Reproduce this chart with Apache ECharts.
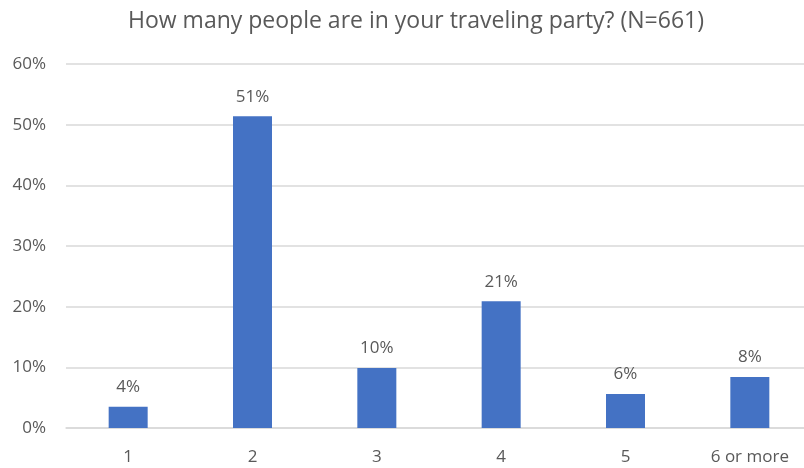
<!DOCTYPE html>
<html>
<head>
<meta charset="utf-8">
<script src="https://cdn.jsdelivr.net/npm/echarts@6/dist/echarts.min.js"></script>
<style>
  html, body { margin: 0; padding: 0; background: #fff; }
  #chart { width: 804px; height: 468px; }
</style>
</head>
<body>
<div id="chart"></div>
<script>
// Party size categories and share of respondents (percent)
const categories = ['1', '2', '3', '4', '5', '6 or more'];
const shares = [3.5, 51.4, 9.9, 20.9, 5.6, 8.4];
const yTicks = { min: 0, max: 60, interval: 10 };
const titleText = 'How many people are in your traveling party? (N=661)';

const FONT = '"Open Sans", "Noto Sans", sans-serif';
const TEXT = '#595959';

const chart = echarts.init(document.getElementById('chart'), null, { renderer: 'canvas' });
chart.setOption({
  animation: false,
  title: {
    text: titleText,
    left: 411,
    textAlign: 'center',
    top: 5,
    textStyle: { fontFamily: FONT, fontSize: 23, fontWeight: 'normal', color: TEXT }
  },
  // plot area runs slightly past the right edge of the canvas
  grid: { left: 66, width: 746, top: 64, bottom: 40, containLabel: false, outerBoundsMode: 'none' },
  xAxis: {
    type: 'category',
    data: categories,
    axisLine: { show: true, lineStyle: { color: '#d9d9d9', width: 1.5 } },
    axisTick: { show: false },
    axisLabel: { fontFamily: FONT, fontSize: 17, color: TEXT, margin: 21 }
  },
  yAxis: {
    type: 'value',
    min: yTicks.min,
    max: yTicks.max,
    interval: yTicks.interval,
    axisLine: { show: false },
    axisTick: { show: false },
    splitLine: { lineStyle: { color: '#d9d9d9', width: 1.5 } },
    axisLabel: { fontFamily: FONT, fontSize: 17, color: TEXT, margin: 20, formatter: v => v + '%' }
  },
  series: [{
    type: 'bar',
    data: shares,
    barWidth: 39,
    itemStyle: { color: '#4472C4' },
    label: {
      show: true,
      position: 'top',
      distance: 11,
      fontFamily: FONT,
      fontSize: 17,
      color: TEXT,
      formatter: p => Math.round(p.value) + '%'
    }
  }]
});
</script>
</body>
</html>
